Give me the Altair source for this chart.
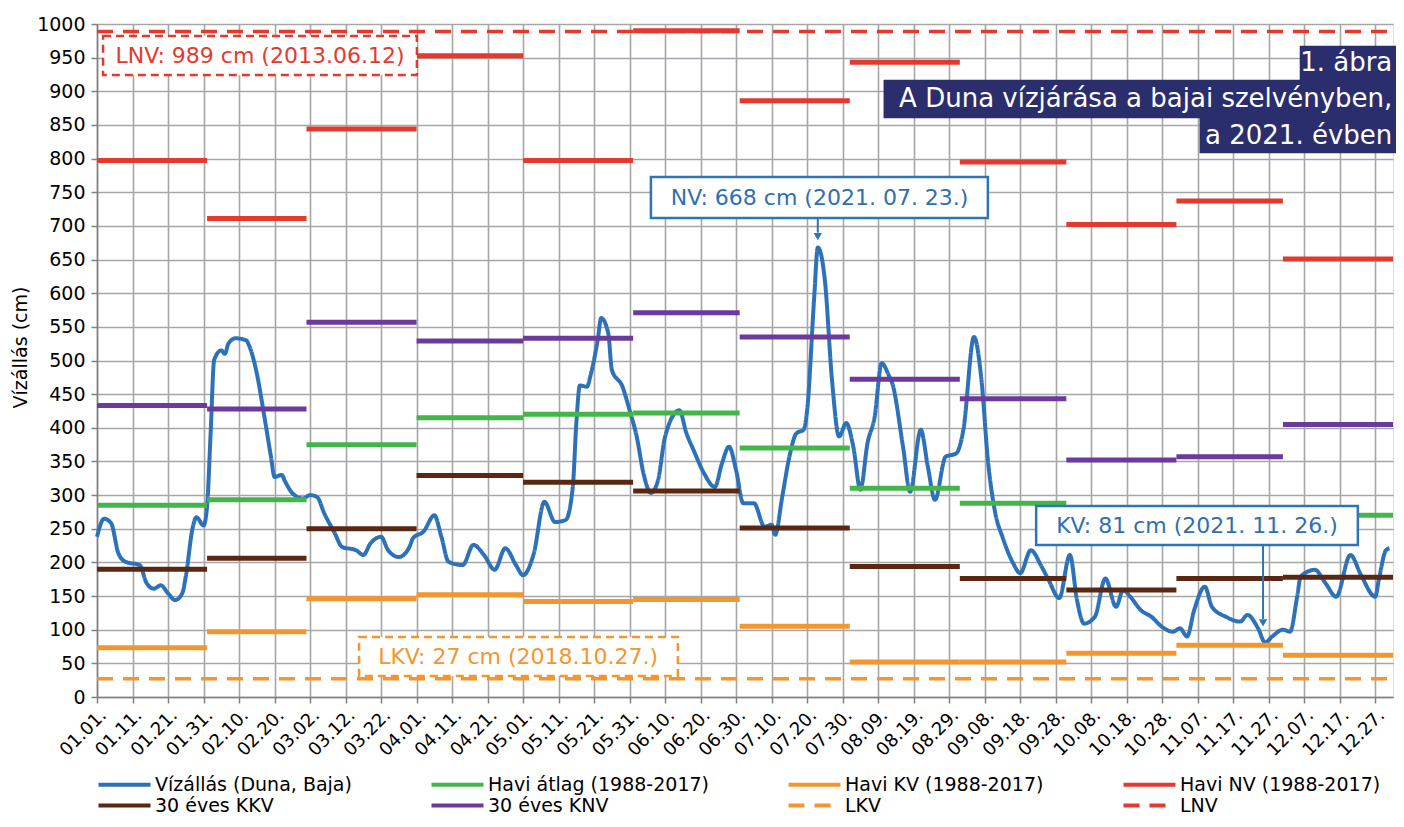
import altair as alt
import pandas as pd

# ---------------- data ----------------
tick_labels = ["01.01.", "01.11.", "01.21.", "01.31.", "02.10.", "02.20.", "03.02.", "03.12.",
               "03.22.", "04.01.", "04.11.", "04.21.", "05.01.", "05.11.", "05.21.", "05.31.",
               "06.10.", "06.20.", "06.30.", "07.10.", "07.20.", "07.30.", "08.09.", "08.19.",
               "08.29.", "09.08.", "09.18.", "09.28.", "10.08.", "10.18.", "10.28.", "11.07.",
               "11.17.", "11.27.", "12.07.", "12.17.", "12.27."]

# daily water level (day index from 01.01., cm)
level_day = [0, 2, 4, 6, 8, 12, 14, 16, 18, 20, 22, 24, 25, 27, 28, 30, 31, 32, 33, 35, 36, 37, 39,
             42, 43, 45, 47, 49, 50, 52, 53, 55, 58, 60, 62, 64, 67, 69, 73, 75, 77, 80, 82, 85,
             88, 89, 92, 95, 97, 99, 103, 106, 109, 112, 115, 118, 120, 123, 126, 129, 132, 134,
             135, 136, 138, 139, 141, 142, 144, 145, 148, 150, 152, 154, 156, 158, 160, 164, 166,
             168, 171, 174, 176, 178, 180, 182, 185, 188, 190, 191, 193, 195, 197, 199, 200, 202,
             203, 205, 207, 209, 211, 213, 215, 217, 219, 221, 223, 224, 227, 229, 232, 234, 236,
             239, 242, 244, 247, 249, 251, 253, 255, 258, 260, 263, 266, 268, 271, 274, 276, 278,
             281, 284, 287, 289, 291, 294, 297, 300, 303, 305, 307, 309, 312, 314, 318, 322, 324,
             327, 329, 331, 334, 336, 338, 339, 343, 346, 349, 353, 356, 360, 361, 363, 364]
level_cm = [238, 265, 258, 214, 201, 196, 169, 161, 166, 154, 144, 154, 179, 253, 267, 255, 283,
            392, 501, 515, 510, 525, 533, 530, 520, 481, 421, 357, 327, 330, 320, 303, 295, 300,
            297, 273, 243, 223, 218, 211, 228, 238, 218, 208, 223, 236, 246, 270, 238, 201, 196,
            226, 211, 189, 221, 196, 181, 213, 290, 260, 263, 312, 407, 463, 461, 478, 530, 563,
            540, 486, 461, 426, 387, 330, 303, 322, 387, 426, 392, 367, 332, 312, 347, 372, 337,
            288, 288, 253, 256, 241, 298, 357, 392, 397, 426, 595, 668, 619, 471, 387, 407, 372,
            308, 377, 416, 496, 478, 466, 372, 305, 397, 342, 293, 357, 362, 397, 535, 476, 347,
            273, 238, 199, 184, 218, 194, 174, 147, 211, 144, 109, 119, 176, 134, 159, 149, 129,
            119, 104, 97, 102, 90, 129, 164, 134, 119, 112, 122, 102, 81, 90, 100, 97, 149, 179,
            189, 169, 149, 211, 181, 149, 174, 218, 221]

# monthly statistics 1988-2017 (Jan..Dec)
havi_atlag = [285, 293, 375, 415, 420, 422, 370, 310, 288, 255, 262, 270]
havi_kv = [73, 97, 146, 152, 142, 145, 105, 52, 52, 65, 77, 62]
havi_nv = [797, 711, 844, 953, 797, 990, 886, 943, 795, 702, 737, 651]
kkv_30 = [190, 206, 250, 329, 319, 306, 251, 194, 176, 159, 176, 178]
knv_30 = [433, 428, 557, 529, 533, 571, 535, 472, 443, 352, 357, 405]
lkv_cm = 27
lnv_cm = 989

series_names = ["Vízállás (Duna, Baja)", "Havi átlag (1988-2017)", "Havi KV (1988-2017)",
                "Havi NV (1988-2017)", "30 éves KKV", "30 éves KNV", "LKV", "LNV"]
series_colors = ["#2d72b8", "#43b649", "#f4962e", "#e5392f", "#5a2812", "#6b3a9c",
                 "#f4962e", "#e5392f"]
series_dash = [[1, 0]] * 6 + [[16, 10], [16, 10]]

title_lines = ["1. ábra", "A Duna vízjárása a bajai szelvényben,", "a 2021. évben"]
nv_label = "NV: 668 cm (2021. 07. 23.)"
kv_label = "KV: 81 cm (2021. 11. 26.)"
lnv_label = "LNV: 989 cm (2013.06.12)"
lkv_label = "LKV: 27 cm (2018.10.27.)"

# ---------------- tables ----------------
month_start = [pd.Timestamp(2021, m, 1).dayofyear - 1 for m in range(1, 13)]
month_end = month_start[1:] + [365]

rows = []
for name, vals in [(series_names[1], havi_atlag), (series_names[2], havi_kv),
                   (series_names[3], havi_nv), (series_names[4], kkv_30),
                   (series_names[5], knv_30)]:
    for s, e, v in zip(month_start, month_end, vals):
        rows.append({"series": name, "x": s, "x2": e, "y": v})
monthly_df = pd.DataFrame(rows)

limit_df = pd.DataFrame({"series": ["LKV", "LNV"], "x": [0, 0], "x2": [365, 365],
                         "y": [lkv_cm, lnv_cm]})
level_df = pd.DataFrame({"series": series_names[0], "x": level_day, "y": level_cm})

# annotation placement (in data units: day, cm)
lnv_box = pd.DataFrame({"x": [1.7], "x2": [90.1], "y": [924.2], "y2": [982.2]})
lkv_box = pd.DataFrame({"x": [73.8], "x2": [163.6], "y": [31.2], "y2": [89.2]})
nv_box = pd.DataFrame({"x": [156.0], "x2": [250.9], "y": [711.7], "y2": [772.7]})
kv_box = pd.DataFrame({"x": [264.5], "x2": [355.1], "y": [225.9], "y2": [283.8]})
title_box = pd.DataFrame({"x": [338.8, 221.6, 310.6], "x2": [366, 366, 366],
                          "y": [916.8, 860.3, 808.3], "y2": [967.3, 916.8, 860.3]})
title_txt = pd.DataFrame({"x": [364.8] * 3, "y": [941.8, 888.6, 834.3], "label": title_lines})
box_txt_red = pd.DataFrame({"x": [45.9], "y": [952.4], "label": [lnv_label]})
box_txt_orange = pd.DataFrame({"x": [118.6], "y": [59.4], "label": [lkv_label]})
box_txt_blue = pd.DataFrame({"x": [203.5, 309.8], "y": [741.5, 254.8], "label": [nv_label, kv_label]})
arrow_df = pd.DataFrame({"x": [203.0, 328.4], "y": [711.7, 225.9], "y2": [690, 116]})
arrow_head = pd.DataFrame({"x": [203.0, 328.4], "y": [684, 110]})

# ---------------- encodings ----------------
FONT = "DejaVu Sans"
x_scale = alt.Scale(domain=[0, 365], nice=False, zero=False)
y_scale = alt.Scale(domain=[0, 1000], nice=False)

label_expr = "[" + ",".join("'" + t + "'" for t in tick_labels) + "][round(datum.value / 10)]"
x_axis = alt.Axis(title=None, values=list(range(0, 361, 10)), labelExpr=label_expr,
                  labelAngle=-45, labelAlign="right", labelBaseline="top",
                  labelFontSize=18, labelFont=FONT, labelColor="#000", labelFlush=False,
                  labelOverlap=False, labelPadding=3, tickSize=6, tickColor="#808080",
                  tickWidth=1.5, domainColor="#808080", domainWidth=1.5, grid=True,
                  gridColor="#a6a6a6", gridWidth=1.6)
y_axis = alt.Axis(title="Vízállás (cm)", values=list(range(0, 1001, 50)), format="d",
                  labelFontSize=19, labelFont=FONT, labelColor="#000", labelPadding=6,
                  tickSize=6, tickColor="#808080", tickWidth=1.5, domainColor="#808080",
                  domainWidth=1.5, grid=True, gridColor="#a6a6a6", gridWidth=1.6,
                  titleFont=FONT, titleFontSize=19, titleFontWeight="normal", titleColor="#000",
                  titleX=-77, titleY=323, titleAngle=270, titleAlign="center",
                  titleBaseline="middle", labelFlush=False)


def X(field="x"):
    return alt.X(field + ":Q", scale=x_scale, axis=x_axis, title=None)


def Y(field="y"):
    return alt.Y(field + ":Q", scale=y_scale, axis=y_axis, title="Vízállás (cm)")


legend = alt.Legend(title=None, orient="none", legendX=18, legendY=751, columns=4,
                    direction="horizontal", symbolType="M-4.333,0H4.333", symbolSize=144,
                    symbolStrokeWidth=4, labelFont=FONT, labelFontSize=19, labelColor="#000",
                    labelLimit=400, labelOffset=21, columnPadding=71, rowPadding=1, padding=0)
color_enc = alt.Color("series:N", scale=alt.Scale(domain=series_names, range=series_colors),
                      legend=legend, title=None)
dash_enc = alt.StrokeDash("series:N", scale=alt.Scale(domain=series_names, range=series_dash),
                          legend=legend, title=None)

# ---------------- layers ----------------
limits = alt.Chart(limit_df).mark_rule(strokeWidth=3.5).encode(
    x=X(), x2="x2:Q", y=Y(), color=color_enc, strokeDash=dash_enc)

level = alt.Chart(level_df).mark_line(strokeWidth=4, interpolate="monotone").encode(
    x=X(), y=Y(), color=color_enc, strokeDash=dash_enc)

monthly = alt.Chart(monthly_df).mark_rule(strokeWidth=5).encode(
    x=X(), x2="x2:Q", y=Y(), color=color_enc, strokeDash=dash_enc)


def box(df, **kw):
    return alt.Chart(df).mark_rect(**kw).encode(x=X(), x2="x2:Q", y=Y(), y2="y2:Q")


def txt(df, color, size, align="center"):
    return alt.Chart(df).mark_text(color=color, fontSize=size, font=FONT, align=align,
                                   baseline="middle").encode(x=X(), y=Y(), text="label:N")


layers = [
    limits, level, monthly,
    box(lnv_box, fill="white", stroke="#e5392f", strokeWidth=2.5, strokeDash=[8, 5]),
    box(lkv_box, fill="white", stroke="#f4962e", strokeWidth=2.5, strokeDash=[8, 5]),
    box(nv_box, fill="white", stroke="#2e75b6", strokeWidth=2.5),
    box(kv_box, fill="white", stroke="#2e75b6", strokeWidth=2.5),
    box(title_box, fill="#2a2e6c", stroke="#2a2e6c", strokeWidth=0.5),
    txt(title_txt, "white", 26, align="right"),
    txt(box_txt_red, "#e5392f", 22),
    txt(box_txt_orange, "#f4962e", 22),
    txt(box_txt_blue, "#2f6fb0", 22),
    alt.Chart(arrow_df).mark_rule(color="#2e75b6", strokeWidth=2).encode(x=X(), y=Y(), y2="y2:Q"),
    alt.Chart(arrow_head).mark_point(shape="triangle-down", filled=True, color="#2e75b6",
                                     size=70, opacity=1).encode(x=X(), y=Y()),
]

chart = alt.layer(*layers).properties(
    width=1296, height=673,
    padding={"left": 89, "top": 16, "right": 3, "bottom": 117},
    autosize=alt.AutoSizeParams(type="none"),
).configure_view(stroke=None).configure(font=FONT, background="white")

chart.save("out.html", embed_options={"renderer": "svg", "actions": False})
